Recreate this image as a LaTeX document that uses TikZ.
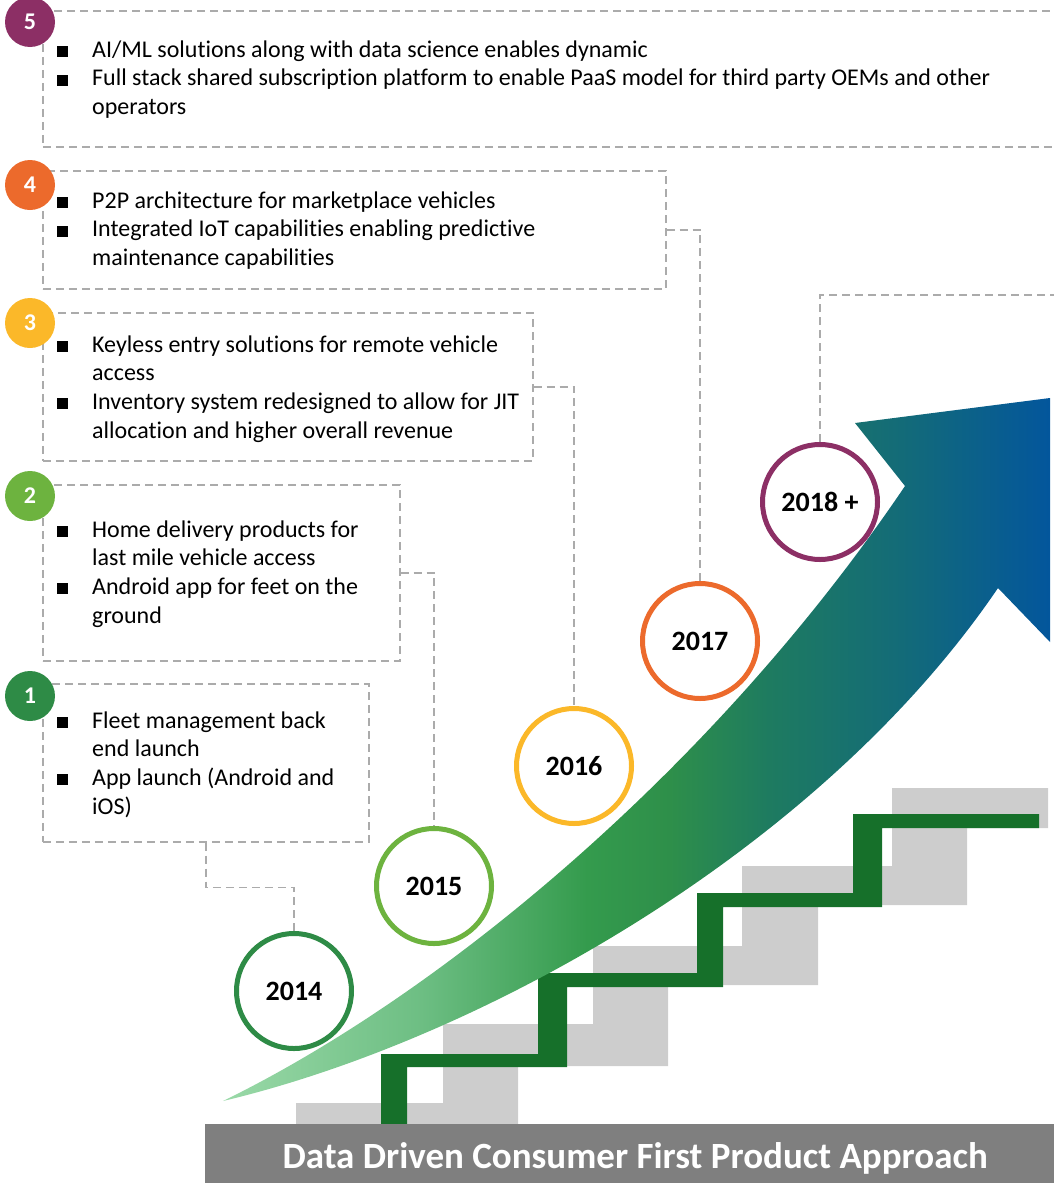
\documentclass[tikz,border=0pt]{standalone}
\usepackage{fontspec}
\setmainfont{Carlito}[Ligatures={NoCommon}]
\usetikzlibrary{positioning}

\definecolor{yrone}{HTML}{2E8B46}
\definecolor{yrtwo}{HTML}{6DB33F}
\definecolor{yrthree}{HTML}{FBB829}
\definecolor{yrfour}{HTML}{EC6A2C}
\definecolor{yrfive}{HTML}{8C2F65}
\definecolor{dashgray}{HTML}{ABABAB}
\definecolor{stairgreen}{HTML}{16702A}
\definecolor{stairshadow}{HTML}{CDCDCD}
\definecolor{bannergray}{HTML}{7F7F7F}
\definecolor{arrA}{HTML}{9AD9A8}
\definecolor{arrB}{HTML}{6DBE83}
\definecolor{arrC}{HTML}{349B4D}
\definecolor{arrD}{HTML}{2E8F4A}
\definecolor{arrE}{HTML}{1E7B60}
\definecolor{arrF}{HTML}{136B78}
\definecolor{arrG}{HTML}{03569C}

\pgfdeclarehorizontalshading{arrowshade}{100bp}{color(0bp)=(arrA); color(25bp)=(arrA);
  color(37bp)=(arrB); color(47bp)=(arrC); color(52bp)=(arrD); color(58bp)=(arrE);
  color(66bp)=(arrF); color(75bp)=(arrG); color(100bp)=(arrG)}

\newcommand{\bsq}{\rule{11pt}{11pt}}

\tikzset{
  link/.style={draw=dashgray, line width=1.6pt, dash pattern=on 8pt off 5pt},
  box/.style={link, inner sep=0pt, anchor=north west},
  items/.style={anchor=base west, inner sep=0pt, font=\fontsize{24}{28.7}\selectfont},
  year/.style={circle, draw=#1, fill=white, line width=5pt, minimum size=115pt,
    inner sep=0pt, font=\fontsize{28}{30}\selectfont\bfseries},
  badge/.style={circle, fill=#1, minimum size=50pt, inner sep=0pt, text=white,
    font=\fontsize{24}{26}\selectfont\bfseries},
}

\begin{document}
\begin{tikzpicture}[x=1pt,y=-1pt]
	    \useasboundingbox (0,0) rectangle (1054,1183);
	    \clip (0,0) rectangle (1054,1183);

	    % stairs
	    \fill[stairshadow] (296,1124) -- (296,1103) -- (443,1103) -- (443,1024) -- (593,1024) -- (593,946)
	      -- (742,946) -- (742,866) -- (892,866) -- (892,788) -- (1048,788) -- (1048,828) -- (967,828)
	      -- (967,905) -- (818,905) -- (818,985) -- (668,985) -- (668,1066) -- (518,1066) -- (518,1124) -- cycle;
	    \fill[stairgreen] (381,1124) -- (381,1054) -- (538,1054) -- (538,973) -- (697,973) -- (697,893)
	      -- (853,893) -- (853,814) -- (1039,814) -- (1039,828) -- (882,828) -- (882,907) -- (723,907)
	      -- (723,987) -- (567,987) -- (567,1067) -- (407,1067) -- (407,1124) -- cycle;

	    % arrow
	    \shade[shading=arrowshade] (223,1101) .. controls (450,990) and (720,760) .. (905,486)
	      -- (855,423) -- (1050,398) -- (1050,642) -- (998,588)
	      .. controls (820,850) and (480,1040) .. (223,1101) -- cycle;

	    % boxes
	    \node[box, minimum width=1040pt, minimum height=136pt] (b5) at (42,10) {};
	    \node[box, minimum width=623pt, minimum height=118pt] (b4) at (42,170) {};
	    \node[box, minimum width=490pt, minimum height=148pt] (b3) at (42,312) {};
	    \node[box, minimum width=357pt, minimum height=176pt] (b2) at (42,484) {};
	    \node[box, minimum width=326pt, minimum height=158pt] (b1) at (42,683) {};

	    \node[items] (t5) at (57,57) {\begin{tabular}[t]{@{}l@{\hspace{24pt}}l@{}}
	      \bsq & AI/ML solutions along with data science enables dynamic\\
	      \bsq & Full stack shared subscription platform to enable PaaS model for third party OEMs and other\\
	           & operators\end{tabular}};
	    \node[items] (t4) at (57,208) {\begin{tabular}[t]{@{}l@{\hspace{24pt}}l@{}}
	      \bsq & P2P architecture for marketplace vehicles\\
	      \bsq & Integrated IoT capabilities enabling predictive\\
	           & maintenance capabilities\end{tabular}};
	    \node[items] (t3) at (57,352) {\begin{tabular}[t]{@{}l@{\hspace{24pt}}l@{}}
	      \bsq & Keyless entry solutions for remote vehicle\\
	           & access\\
	      \bsq & Inventory system redesigned to allow for JIT\\
	           & allocation and higher overall revenue\end{tabular}};
	    \node[items] (t2) at (57,537) {\begin{tabular}[t]{@{}l@{\hspace{24pt}}l@{}}
	      \bsq & Home delivery products for\\
	           & last mile vehicle access\\
	      \bsq & Android app for feet on the\\
	           & ground\end{tabular}};
	    \node[items] (t1) at (57,728) {\begin{tabular}[t]{@{}l@{\hspace{24pt}}l@{}}
	      \bsq & Fleet management back\\
	           & end launch\\
	      \bsq & App launch (Android and\\
	           & iOS)\end{tabular}};

	    % years
	    \node[year=yrone] (y2014) at (294,991) {2014};
	    \node[year=yrtwo] (y2015) at (434,886) {2015};
	    \node[year=yrthree] (y2016) at (574,766) {2016};
	    \node[year=yrfour] (y2017) at (700,641) {2017};
	    \node[year=yrfive] (y2018) at (820,502) {2018 +};

	    % links
	    \coordinate (c5) at (1070,295);
	    \draw[link] (b1.south) -- ++(0,45) -| (y2014.north);
	    \draw[link] (b2.east) -| (y2015.north);
	    \draw[link] (b3.east) -| (y2016.north);
	    \draw[link] (b4.east) -| (y2017.north);
	    \draw[link] (y2018.north) |- (c5);

	    % badges
	    \node[badge=yrone] (n1) at (30,696) {1};
	    \node[badge=yrtwo] (n2) at (30,496) {2};
	    \node[badge=yrthree] (n3) at (30,323) {3};
	    \node[badge=yrfour] (n4) at (30,185) {4};
	    \node[badge=yrfive] (n5) at (30,22) {5};

	    % banner
	    \node[fill=bannergray, anchor=north west, minimum width=860pt, minimum height=68pt,
	      text=white, font=\fontsize{37}{40}\selectfont\bfseries] (banner) at (205,1124)
	      {Data Driven Consumer First Product Approach};

	\end{tikzpicture}
\end{document}
